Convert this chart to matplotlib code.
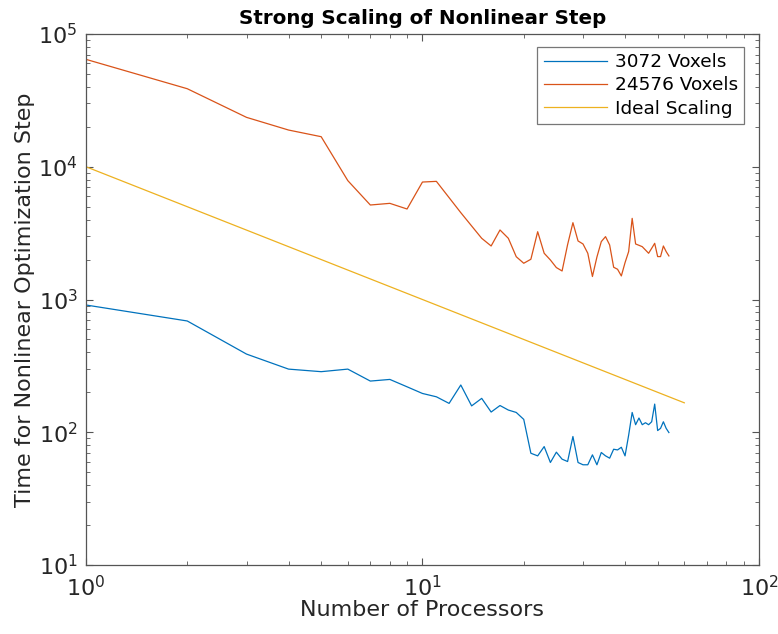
import numpy as np
import matplotlib
matplotlib.use("Agg")
import matplotlib.pyplot as plt

# processor counts and timings
procs = list(range(1, 55))
time_3072 = [909, 689, 388, 299, 286, 299, 243, 250, 220, 196,
             185, 165, 227, 158, 180, 142, 159, 147, 141, 125,
             69.5, 66.4, 78, 59.2, 70.8, 62.7, 60.2, 92.9, 59.2, 56.9,
             56.9, 67.6, 56.9, 70.4, 66.4, 63.8, 74.5, 73.6, 77.1, 66.4,
             95, 141, 114, 128, 114, 118, 114, 120, 163, 103,
             107, 120, 107, 99.5]
time_24576 = [64400, 38700, 23550, 18900, 16840, 7860, 5150, 5300, 4805, 7670,
              7760, 5850, 4510, 3580, 2890, 2530, 3340, 2890, 2100, 1875,
              2010, 3240, 2230, 1985, 1740, 1640, 2590, 3790, 2760, 2620,
              2230, 1490, 2090, 2730, 2975, 2575, 1750, 1690, 1505, 1895,
              2295, 4085, 2620, 2560, 2500, 2360, 2230, 2430, 2650, 2105,
              2105, 2530, 2295, 2130]
ideal_procs = np.arange(1, 61)
ideal_time = 1e4 / ideal_procs

plt.rcParams['font.family'] = 'DejaVu Sans'
fig = plt.figure(figsize=(7.78, 6.34), dpi=100)
ax = fig.add_axes([0.1105, 0.1088, 0.865, 0.8376])

ax.plot(procs, time_3072, color='#0072BD', lw=0.9, label='3072 Voxels')
ax.plot(procs, time_24576, color='#D95319', lw=0.9, label='24576 Voxels')
ax.plot(ideal_procs, ideal_time, color='#EDB120', lw=0.9, label='Ideal Scaling')

ax.set_xscale('log')
ax.set_yscale('log')
ax.set_xlim(1, 100)
ax.set_ylim(10, 1e5)

edge = '#262626'
for s in ax.spines.values():
    s.set_color('#555555')
    s.set_linewidth(0.9)
ax.tick_params(which='both', direction='in', top=True, right=True, color='#555555',
               labelsize=16, labelcolor=edge)
ax.tick_params(which='major', length=5)
ax.tick_params(which='minor', length=3)
ax.tick_params(axis='x', pad=7)
ax.tick_params(axis='y', pad=6)

ax.set_title('Strong Scaling of Nonlinear Step', fontsize=14.3, fontweight='bold', pad=7)
ax.set_xlabel('Number of Processors', fontsize=16, color=edge, labelpad=0)
ax.set_ylabel('Time for Nonlinear Optimization Step', fontsize=16, color=edge, labelpad=2)

leg = ax.legend(loc='upper right', fontsize=13.3, frameon=True, fancybox=False,
                edgecolor='#555555', handlelength=3.4, handletextpad=0.43,
                borderpad=0.35, labelspacing=0.28, borderaxespad=0,
                bbox_to_anchor=(0.978, 0.976))
leg.get_frame().set_linewidth(0.9)

fig.savefig('out.png', dpi=100)
